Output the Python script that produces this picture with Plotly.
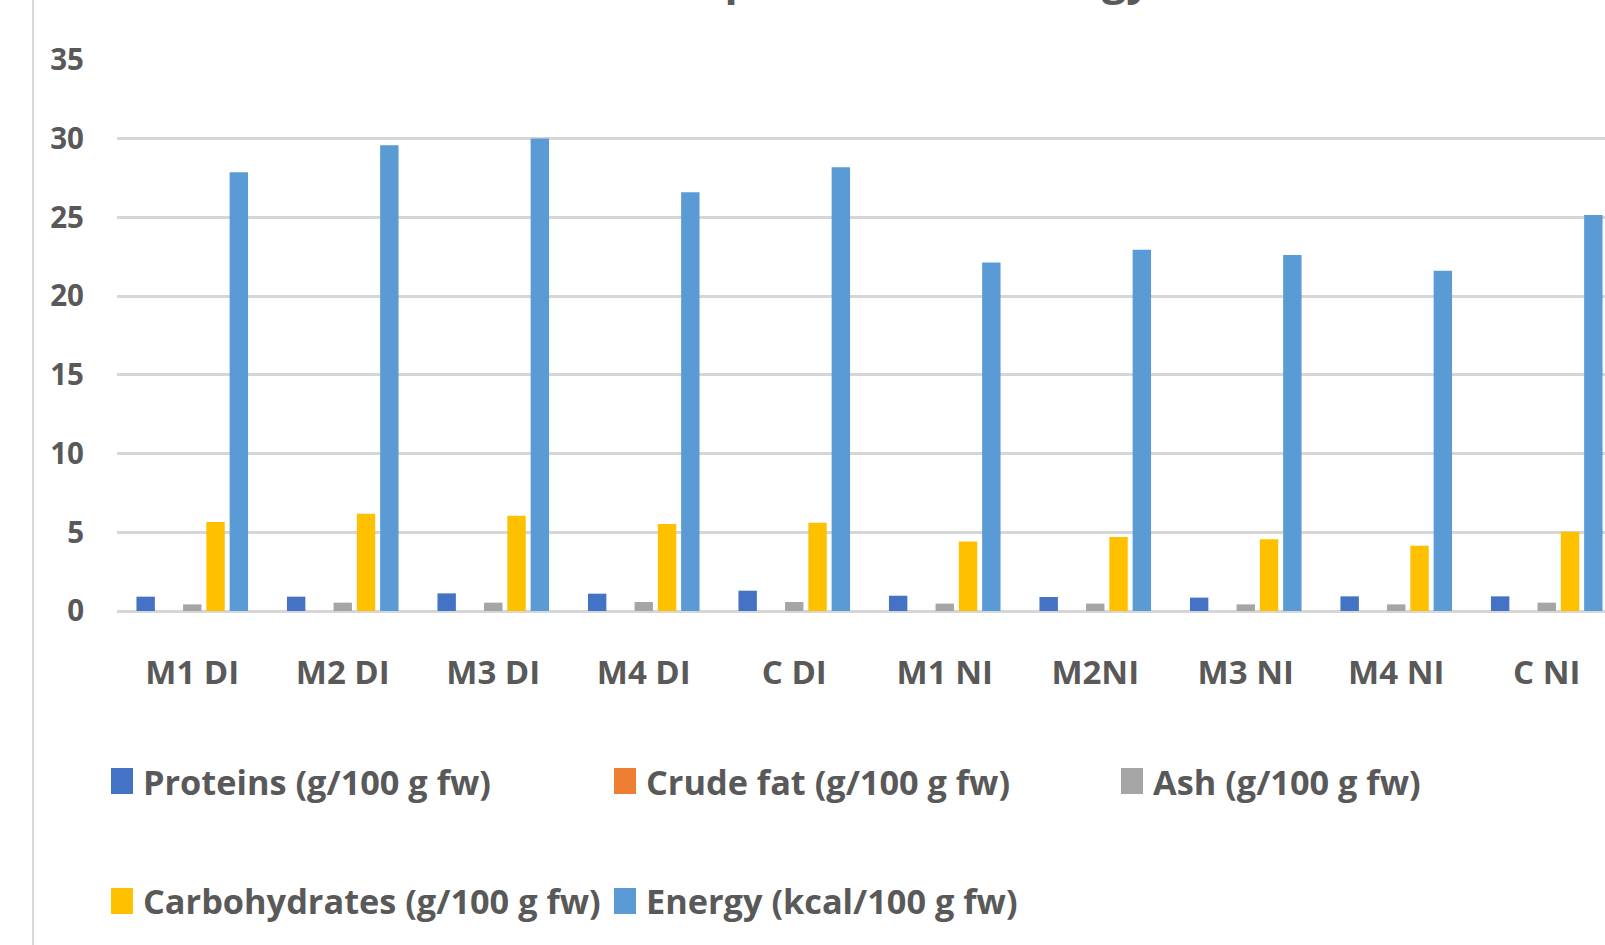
import plotly.graph_objects as go

# Samples and proximate composition / energy per 100 g fresh weight
categories = ["M1 DI", "M2 DI", "M3 DI", "M4 DI", "C DI",
              "M1 NI", "M2NI", "M3 NI", "M4 NI", "C NI"]
proteins = [0.91, 0.91, 1.12, 1.10, 1.29, 0.97, 0.89, 0.85, 0.93, 0.93]
crude_fat = [0, 0, 0, 0, 0, 0, 0, 0, 0, 0]
ash = [0.42, 0.53, 0.53, 0.57, 0.57, 0.47, 0.47, 0.42, 0.42, 0.53]
carbohydrates = [5.66, 6.18, 6.05, 5.53, 5.61, 4.41, 4.70, 4.55, 4.15, 5.04]
energy = [27.87, 29.59, 30.01, 26.60, 28.19, 22.13, 22.94, 22.62, 21.62, 25.16]

series_names = ["Proteins (g/100 g fw)", "Crude fat (g/100 g fw)", "Ash (g/100 g fw)",
                "Carbohydrates (g/100 g fw)", "Energy (kcal/100 g fw)"]
series_values = [proteins, crude_fat, ash, carbohydrates, energy]
series_colors = ["#4472C4", "#ED7D31", "#A5A5A5", "#FFC000", "#5B9BD5"]

title_text = "Proximate composition and energy"
y_ticks = [0, 5, 10, 15, 20, 25, 30, 35]

W, H = 1605, 945
ML, MT, MB = 117, 60, 334
PW, PH = W - ML, H - MT - MB
BAND = 150.5
FONT = "Open Sans"
TXT = "#595959"


def px_x(x):
    return (x - ML) / PW


def px_y(y):
    return (H - MB - y) / PH


fig = go.Figure()
for name, vals, col in zip(series_names, series_values, series_colors):
    fig.add_trace(go.Bar(x=list(range(len(categories))), y=vals, name=name,
                         marker=dict(color=col, line=dict(width=0)),
                         showlegend=False))

fig.update_layout(
    width=W, height=H,
    margin=dict(l=ML, r=0, t=MT, b=MB, pad=0),
    paper_bgcolor="white", plot_bgcolor="white",
    barmode="group", bargap=0.226, bargroupgap=0.21,
    font=dict(family=FONT, color=TXT),
    xaxis=dict(range=[-0.5, -0.5 + PW / BAND], tickmode="array",
               tickvals=list(range(len(categories))), ticktext=categories,
               showgrid=False, zeroline=False, showline=False,
               ticks="", ticklabelstandoff=39,
               tickfont=dict(family=FONT, size=33, color=TXT, weight="bold")),
    yaxis=dict(range=[0, 35], tickvals=y_ticks, showgrid=True,
               gridcolor="#d6d6d6", gridwidth=2.5, zeroline=True,
               zerolinecolor="#d6d6d6", zerolinewidth=2.5, showline=False,
               ticks="", ticklabelstandoff=32,
               tickfont=dict(family=FONT, size=29.5, color=TXT, weight="bold")),
)

# Chart-area border on the left
fig.add_shape(type="line", xref="paper", yref="paper",
              x0=px_x(33), x1=px_x(33), y0=px_y(-5), y1=px_y(H + 5),
              line=dict(color="#d9d9d9", width=2))

# Title (sits above the visible area, only descenders reach into view)
fig.add_annotation(text=title_text, xref="paper", yref="paper",
                   x=px_x(775), y=px_y(10), xanchor="center", yanchor="bottom",
                   showarrow=False,
                   font=dict(family=FONT, size=43, color=TXT, weight="bold"))

# Legend drawn as coloured squares with labels, two rows
legend_pos = [(111, 781), (614, 781), (1121, 781), (111, 901), (614, 901)]
for (lx, ly), name, col in zip(legend_pos, series_names, series_colors):
    fig.add_shape(type="rect", xref="paper", yref="paper",
                  x0=px_x(lx), x1=px_x(lx + 22), y0=px_y(ly - 13), y1=px_y(ly + 13),
                  fillcolor=col, line=dict(width=0))
    fig.add_annotation(text=name, xref="paper", yref="paper",
                       x=px_x(lx + 30), y=px_y(ly), xanchor="left", yanchor="middle",
                       showarrow=False,
                       font=dict(family=FONT, size=34.3, color=TXT, weight="bold"))

fig.write_html("out.html")
